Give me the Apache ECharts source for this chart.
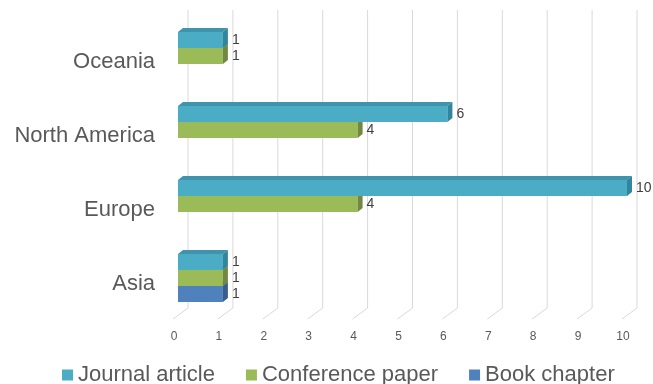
<!DOCTYPE html>
<html>
<head>
<meta charset="utf-8">
<script src="https://cdn.jsdelivr.net/npm/echarts@6/dist/echarts.min.js"></script>
<style>html,body{margin:0;padding:0;background:#fff;}#c{width:653px;height:384px;}</style>
</head>
<body>
<div id="c"></div>
<script>
const categories = ['Asia', 'Europe', 'North America', 'Oceania'];
const journalArticle = [1, 10, 6, 1];
const conferencePaper = [1, 4, 4, 1];
const bookChapter = [1, 0, 0, 0];
const tickValues = [0, 1, 2, 3, 4, 5, 6, 7, 8, 9, 10];

const FONT = '"Liberation Sans", Arial, sans-serif';
const GRID_TOP = 19, GRID_BOTTOM_Y = 315;
const DX = 5, DY = 4;

const chart = echarts.init(document.getElementById('c'));

function barRenderer(slot, front, topC, sideC) {
  return function (params, api) {
    const v = api.value(0), c = api.value(1);
    if (!v) return null;
    const p0 = api.coord([0, c]);
    const p1 = api.coord([v, c]);
    const band = api.size([0, 1])[1];
    const groupH = band * 0.65;
    const barH = groupH / 3;
    const top = p0[1] - groupH / 2 + slot * barH;
    const x0 = p0[0], x1 = p1[0];
    return {
      type: 'group',
      children: [
        { type: 'rect', shape: { x: x0, y: top, width: x1 - x0, height: barH }, style: { fill: front } },
        { type: 'polygon', shape: { points: [[x0, top], [x0 + DX, top - DY], [x1 + DX, top - DY], [x1, top]] }, style: { fill: topC } },
        { type: 'polygon', shape: { points: [[x1, top], [x1 + DX, top - DY], [x1 + DX, top + barH - DY], [x1, top + barH]] }, style: { fill: sideC } },
        { type: 'text', style: { text: String(v), x: x1 + DX + 4, y: top + barH / 2, align: 'left', verticalAlign: 'middle', fill: '#404040', fontSize: 14, fontFamily: FONT } }
      ]
    };
  };
}

function gridRenderer(params, api) {
  const x = api.coord([api.value(0), 0])[0];
  return {
    type: 'polyline',
    shape: { points: [[x + 10, GRID_TOP - 9], [x + 10, GRID_BOTTOM_Y - 7], [x - 5, GRID_BOTTOM_Y + 4]] },
    style: { stroke: '#D9D9D9', lineWidth: 1, fill: null }
  };
}

function seriesData(arr) { return arr.map((v, i) => [v, i]); }

chart.setOption({
  animation: false,
  backgroundColor: '#ffffff',
  grid: { left: 178, right: 26, top: GRID_TOP, bottom: 384 - GRID_BOTTOM_Y, containLabel: false },
  legend: {
    left: 57, top: 359, icon: 'rect', itemWidth: 11, itemHeight: 11, itemGap: 31,
    textStyle: { fontSize: 22, color: '#595959', fontFamily: FONT },
    data: ['Journal article', 'Conference paper', 'Book chapter']
  },
  xAxis: {
    type: 'value', min: 0, max: 10, interval: 1,
    axisLine: { show: false }, axisTick: { show: false }, splitLine: { show: false },
    axisLabel: { fontSize: 12, color: '#595959', fontFamily: FONT, margin: 16, padding: [0, 8, 0, 0] }
  },
  yAxis: {
    type: 'category', data: categories,
    axisLine: { show: false }, axisTick: { show: false }, splitLine: { show: false },
    axisLabel: { fontSize: 22, color: '#595959', fontFamily: FONT, margin: 23, verticalAlign: 'top', lineHeight: 12 }
  },
  series: [
    { type: 'custom', name: 'grid', renderItem: gridRenderer, data: tickValues.map(v => [v]), encode: { x: 0 }, z: 1, silent: true },
    { type: 'custom', name: 'Book chapter', renderItem: barRenderer(2, '#4F81BD', '#4470A6', '#385D8A'), data: seriesData(bookChapter), encode: { x: 0, y: 1 }, itemStyle: { color: '#4F81BD' }, z: 2 },
    { type: 'custom', name: 'Conference paper', renderItem: barRenderer(1, '#9BBB59', '#86A34B', '#71893F'), data: seriesData(conferencePaper), encode: { x: 0, y: 1 }, itemStyle: { color: '#9BBB59' }, z: 3 },
    { type: 'custom', name: 'Journal article', renderItem: barRenderer(0, '#4BACC6', '#3F93AB', '#31859C'), data: seriesData(journalArticle), encode: { x: 0, y: 1 }, itemStyle: { color: '#4BACC6' }, z: 4 }
  ]
});
</script>
</body>
</html>
